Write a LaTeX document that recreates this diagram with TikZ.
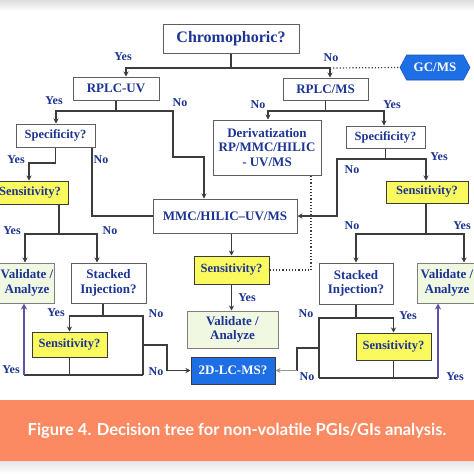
\documentclass[tikz,border=0pt]{standalone}
\usepackage{fontspec}
\setmainfont{Liberation Serif}
\newfontfamily\capfont{Lato}
\usetikzlibrary{arrows.meta,shapes.symbols}
\definecolor{txtblue}{RGB}{28,52,148}
\definecolor{boxgray}{RGB}{95,95,95}
\definecolor{conncol}{RGB}{60,60,60}
\definecolor{yel}{RGB}{250,250,95}
\definecolor{grn}{RGB}{240,248,226}
\definecolor{bluefill}{RGB}{30,110,230}
\definecolor{purp}{RGB}{95,80,170}
\definecolor{orng}{RGB}{251,138,98}
\definecolor{lightarr}{RGB}{150,150,150}
\tikzset{
  box/.style={draw=boxgray, line width=1pt, fill=white, text=txtblue,
    font=\bfseries\fontsize{13}{14.5}\selectfont, align=center, inner sep=0pt},
  ybox/.style={box, fill=yel, draw=conncol},
  gbox/.style={box, fill=grn, draw=boxgray!80},
  bbox/.style={box, fill=bluefill, draw=conncol, text=white},
  lbl/.style={text=txtblue, font=\bfseries\fontsize{12}{12}\selectfont, inner sep=0pt},
  conn/.style={draw=conncol, line width=1.4pt},
  arr/.style={conn, -{Stealth[length=5pt,width=5pt]}},
  parr/.style={draw=purp, line width=1.4pt, -{Stealth[length=6pt,width=6pt]}},
  garr/.style={draw=lightarr, line width=1.2pt, -{Stealth[length=5pt,width=5pt]}},
  dots/.style={draw=conncol, line width=1.2pt, dotted},
}
\begin{document}
\begin{tikzpicture}[x=1pt,y=-1pt]
\useasboundingbox (0,0) rectangle (474,474);
\clip (0,0) rectangle (474,474);
% background bands
\fill[white] (0,0) rectangle (474,474);
\shade[top color=black!13, bottom color=white] (0,0) rectangle (474,11);
\shade[top color=black!10, bottom color=white] (0,461) rectangle (474,474);
\fill[orng] (0,400) rectangle (474,461);
\node[text=white, font=\capfont\bfseries\fontsize{16.5}{17}\selectfont, inner sep=0pt] (cap) at (237,431) {Figure 4. Decision tree for non-volatile PGIs/GIs analysis.};

% nodes
\node[box, minimum width=136pt, minimum height=29pt, font=\bfseries\fontsize{16}{17}\selectfont] (chrom) at (231,38.5) {Chromophoric?};
\node[signal, signal to=west and east, signal pointer angle=124, fill=bluefill, draw=bluefill!80!black, line width=0.6pt, text=white, font=\bfseries\fontsize{13}{14}\selectfont, minimum width=70pt, minimum height=25pt, inner sep=1pt] (gcms) at (435,67.5) {GC/MS};
\node[box, minimum width=86pt, minimum height=23pt] (rplcuv) at (116,88.5) {RPLC-UV};
\node[box, minimum width=85pt, minimum height=22pt] (rplcms) at (325.5,89) {RPLC/MS};
\node[box, minimum width=79pt, minimum height=23pt, font=\bfseries\fontsize{12.5}{14}\selectfont] (specL) at (55.5,135.5) {Specificity?};
\node[box, minimum width=79pt, minimum height=22pt, font=\bfseries\fontsize{12.5}{14}\selectfont] (specR) at (385.5,137) {Specificity?};
\node[box, minimum width=108pt, minimum height=55pt] (deriv) at (267,147.5) {Derivatization\\RP/MMC/HILIC\\- UV/MS};
\node[ybox, minimum width=76pt, minimum height=23pt, font=\bfseries\fontsize{12.5}{14}\selectfont] (sensL) at (30,192.5) {Sensitivity?};
\node[ybox, minimum width=82pt, minimum height=22pt, font=\bfseries\fontsize{12.5}{14}\selectfont] (sensR) at (427,192) {Sensitivity?};
\node[box, minimum width=144pt, minimum height=34pt] (mmc) at (225,216) {MMC/HILIC\textendash UV/MS};
\node[ybox, minimum width=75pt, minimum height=28pt, font=\bfseries\fontsize{12.5}{14}\selectfont] (sensM) at (231.5,270) {Sensitivity?};
\node[gbox, minimum width=94pt, minimum height=40pt] (valL) at (7,283) {};
\node[text=txtblue, font=\bfseries\fontsize{13}{14.5}\selectfont, align=center, inner sep=0pt] (valLtxt) at (27,283) {Validate /\\Analyze};
\node[box, minimum width=75pt, minimum height=40pt] (stackL) at (108.5,283) {Stacked\\Injection?};
\node[box, minimum width=74pt, minimum height=41pt] (stackR) at (356,283.5) {Stacked\\Injection?};
\node[gbox, minimum width=80pt, minimum height=40pt] (valR) at (457,283) {};
\node[text=txtblue, font=\bfseries\fontsize{13}{14.5}\selectfont, align=center, inner sep=0pt] (valRtxt) at (447,283) {Validate /\\Analyze};
\node[gbox, minimum width=91pt, minimum height=37pt] (valM) at (232.5,329.5) {Validate /\\Analyze};
\node[ybox, minimum width=75pt, minimum height=25pt, font=\bfseries\fontsize{12.5}{14}\selectfont] (sensLL) at (69.5,344.5) {Sensitivity?};
\node[ybox, minimum width=75pt, minimum height=27pt, font=\bfseries\fontsize{12.5}{14}\selectfont] (sensRL) at (393.5,346.5) {Sensitivity?};
\node[bbox, minimum width=84pt, minimum height=27pt] (lcms) at (233,370.5) {2D-LC-MS?};

% junction coordinates
\coordinate (j1) at (126,68);
\coordinate (j2) at (330,68);
\coordinate (j3) at (56,111);
\coordinate (j4) at (173,111);
\coordinate (j5) at (173,157);
\coordinate (j6) at (204,157);
\coordinate (j7) at (268,111);
\coordinate (j8) at (384,111);
\coordinate (j9) at (29,163);
\coordinate (j10) at (92,216);
\coordinate (j11) at (337,159);
\coordinate (j12) at (426,159);
\coordinate (j13) at (311,270);
\coordinate (s1) at (59,234);
\coordinate (j14) at (25,234);
\coordinate (j15) at (97,234);
\coordinate (t1) at (103,316);
\coordinate (t2) at (143,316);
\coordinate (t3) at (143,375);
\coordinate (t4) at (143,345);
\coordinate (t5) at (167,345);
\coordinate (t6) at (24,375);
\coordinate (r1) at (426,234);
\coordinate (r2) at (464,234);
\coordinate (u1) at (356,318);
\coordinate (u2) at (319,318);
\coordinate (u4) at (319,378);
\coordinate (u5) at (438,378);
\coordinate (u6) at (319,348);
\coordinate (u7) at (297,348);

% connectors
\draw[arr] (chrom.south) |- (j1) -- (j1 |- rplcuv.north);
\draw[arr] (chrom.south) |- (j2) -- (j2 |- rplcms.north);
\draw[dots] (j2) -- (gcms.west);
\draw[arr] (rplcuv.south) |- (j3) -- (j3 |- specL.north);
\draw[arr] (rplcuv.south) |- (j4) -- (j5) -- (j6) -- (j6 |- mmc.north);
\draw[arr] (rplcms.south) |- (j7) -- (j7 |- deriv.north);
\draw[arr] (rplcms.south) |- (j8) -- (j8 |- specR.north);
\draw[arr] (specL.south) |- (j9) -- (j9 |- sensL.north);
\draw[conn] (j10 |- specL.south) -- (j10) -- (mmc.west);
\draw[arr] (specR.south) |- (j12) -- (j12 |- sensR.north);
\draw[arr] (specR.south) |- (j11) |- (mmc.east);
\draw[arr] (mmc.south -| sensM.north) -- (sensM.north);
\draw[dots] (sensM.east) -- (j13) -- (j13 |- deriv.south);
\draw[arr] (sensM.south) -- (sensM.south |- valM.north);
\draw[arr] (s1 |- sensL.south) -- (s1) -| (j14 |- valL.north);
\draw[arr] (s1) -- (j15) -- (j15 |- stackL.north);
\draw[arr] (t1 |- stackL.south) -- (t1) -| (sensLL.north);
\draw[conn] (t1) -- (t2) -- (t3);
\draw[arr] (t4) -- (t5) |- (lcms.west);
\draw[conn] (sensLL.south) -- (sensLL.south |- t3);
\draw[conn] (t3) -- (t6);
\draw[parr] (t6) -- (t6 |- valL.south);
\draw[arr] (r1 |- sensR.south) -- (r1) -| (stackR.north);
\draw[arr] (r1) -- (r2) -- (r2 |- valR.north);
\draw[conn] (stackR.south) -- (u1);
\draw[arr] (u1) -| (sensRL.north);
\draw[conn] (u1) -- (u2) -- (u4);
\draw[conn] (sensRL.south) -- (sensRL.south |- u4);
\draw[conn] (u4) -- (u5);
\draw[parr] (u5) -- (u5 |- valR.south);
\draw[conn] (u6) -- (u7) -- (u7 |- lcms.east);
\draw[garr] (u7 |- lcms.east) -- (lcms.east);

% labels
\node[lbl] (l1) at (123,57) {Yes};
\node[lbl] (l2) at (331,58) {No};
\node[lbl] (l3) at (54,101) {Yes};
\node[lbl] (l4) at (180,103) {No};
\node[lbl] (l5) at (258,105) {No};
\node[lbl] (l6) at (392,105) {Yes};
\node[lbl] (l7) at (16,160) {Yes};
\node[lbl] (l8) at (101,160) {No};
\node[lbl] (l9) at (352,170) {No};
\node[lbl] (l10) at (439,157) {Yes};
\node[lbl] (l11) at (12,231) {Yes};
\node[lbl] (l12) at (110,231) {No};
\node[lbl] (l13) at (352,226) {No};
\node[lbl] (l14) at (462,226) {Yes};
\node[lbl] (l15) at (247,298) {Yes};
\node[lbl] (l16) at (56,313) {Yes};
\node[lbl] (l17) at (156,314) {No};
\node[lbl] (l18) at (156,372) {No};
\node[lbl] (l19) at (11,370) {Yes};
\node[lbl] (l20) at (306,314) {No};
\node[lbl] (l21) at (408,316) {Yes};
\node[lbl] (l22) at (307,377) {No};
\node[lbl] (l23) at (455,377) {Yes};
\end{tikzpicture}
\end{document}
